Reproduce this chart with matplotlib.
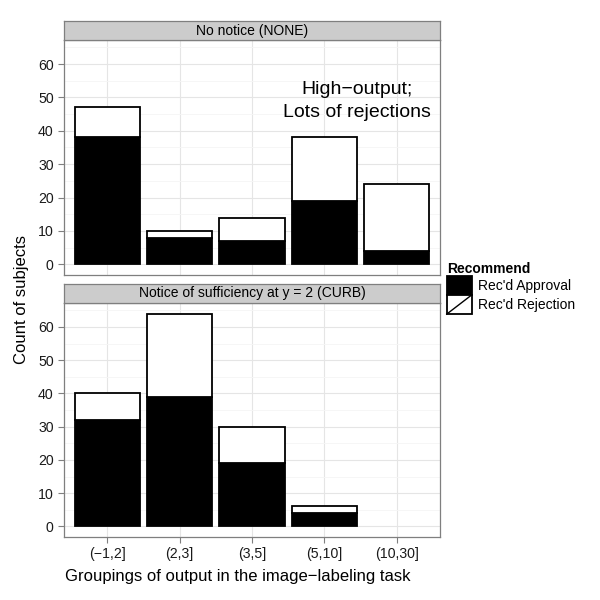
import matplotlib
matplotlib.use("Agg")
import matplotlib.pyplot as plt
import numpy as np
from matplotlib.patches import Rectangle
from matplotlib.lines import Line2D
from matplotlib.legend_handler import HandlerBase

plt.rcParams['font.family'] = ['Liberation Sans', 'DejaVu Sans']

categories = ["(\u22121,2]", "(2,3]", "(3,5]", "(5,10]", "(10,30]"]
panels = ["No notice (NONE)", "Notice of sufficiency at y = 2 (CURB)"]
none_approval = [38, 8, 7, 19, 4]
none_rejection = [9, 2, 7, 19, 20]
curb_approval = [32, 39, 19, 4, 0]
curb_rejection = [8, 25, 11, 2, 0]
legend_labels = ["Rec'd Approval", "Rec'd Rejection"]
yticks = [0, 10, 20, 30, 40, 50, 60]

fig = plt.figure(figsize=(6, 6), dpi=100)
W = H = 600.0
left, right = 64 / W, 440 / W

def make_axes(top_px, bottom_px, strip_top_px):
    ax = fig.add_axes([left, 1 - bottom_px / H, right - left, (bottom_px - top_px) / H])
    sax = fig.add_axes([left, 1 - top_px / H, right - left, (top_px - strip_top_px) / H])
    return ax, sax

axes = [make_axes(40, 275, 21), make_axes(303, 537, 284)]
data = [(none_approval, none_rejection), (curb_approval, curb_rejection)]
x = np.arange(1, len(categories) + 1)

for i, ((ax, sax), (appr, rej)) in enumerate(zip(axes, data)):
    appr = np.array(appr); rej = np.array(rej)
    tot = appr + rej
    m = tot > 0
    ax.bar(x[m], appr[m], width=0.9, color='black', edgecolor='black', linewidth=1.3, zorder=3)
    ax.bar(x[m], rej[m], bottom=appr[m], width=0.9, color='white', edgecolor='black', linewidth=1.3, zorder=3)
    ax.set_xlim(0.4, 5.6)
    ax.set_ylim(-3.2, 67.2)
    ax.set_yticks(yticks)
    ax.set_yticks([5, 15, 25, 35, 45, 55, 65], minor=True)
    ax.set_xticks(x)
    ax.grid(True, which='major', color='#E5E5E5', linewidth=0.8, zorder=0)
    ax.grid(True, which='minor', axis='y', color='#F5F5F5', linewidth=0.6, zorder=0)
    ax.set_axisbelow(True)
    for s in ax.spines.values():
        s.set_color('#7F7F7F'); s.set_linewidth(0.9)
    ax.tick_params(which='major', length=4, color='#7F7F7F', labelsize=10.2, labelcolor='#1a1a1a', width=0.8)
    ax.tick_params(which='minor', length=0)
    if i == 0:
        ax.set_xticklabels([])
        ax.tick_params(axis='x', length=0)
        ax.text(4.45, 49, "High\u2212output;\nLots of rejections", ha='center', va='center',
                fontsize=14, linespacing=1.5)
    else:
        ax.set_xticklabels(categories)
    sax.set_xticks([]); sax.set_yticks([])
    sax.set_facecolor('#CCCCCC')
    for s in sax.spines.values():
        s.set_color('#7F7F7F'); s.set_linewidth(0.9)
    sax.text(0.5, 0.5, panels[i], ha='center', va='center', fontsize=10, transform=sax.transAxes)

fig.text(22 / W, 1 - 300 / H, "Count of subjects", rotation=90, ha='center', va='center', fontsize=12)
fig.text(238 / W, 1 - 577 / H, "Groupings of output in the image\u2212labeling task",
         ha='center', va='center', fontsize=12)

class SlashHandler(HandlerBase):
    def create_artists(self, legend, orig_handle, xdescent, ydescent, width, height, fontsize, trans):
        r = Rectangle((-xdescent, -ydescent), width, height, facecolor='white', edgecolor='black',
                      linewidth=1.3, transform=trans)
        l = Line2D([-xdescent, -xdescent + width], [-ydescent, -ydescent + height], color='black',
                   linewidth=1.0, transform=trans)
        return [r, l]

class BoxHandler(HandlerBase):
    def create_artists(self, legend, orig_handle, xdescent, ydescent, width, height, fontsize, trans):
        r = Rectangle((-xdescent, -ydescent), width, height, facecolor='black', edgecolor='black',
                      linewidth=1.3, transform=trans)
        return [r]

h1 = Rectangle((0, 0), 1, 1, facecolor='black')
h2 = Rectangle((0, 0), 1, 1, facecolor='white')
leg = fig.legend([h1, h2], legend_labels, title="Recommend", loc='upper left',
                 bbox_to_anchor=(437 / W, 1 - 252 / H), frameon=False, fontsize=10,
                 handler_map={h1: BoxHandler(), h2: SlashHandler()},
                 handlelength=1.8, handleheight=1.75, handletextpad=0.45, labelspacing=0.0,
                 borderpad=0.2)
leg.get_title().set_fontweight('bold')
leg.get_title().set_fontsize(10)
leg._legend_box.align = "left"

fig.savefig("out.png", dpi=100, facecolor='white')
